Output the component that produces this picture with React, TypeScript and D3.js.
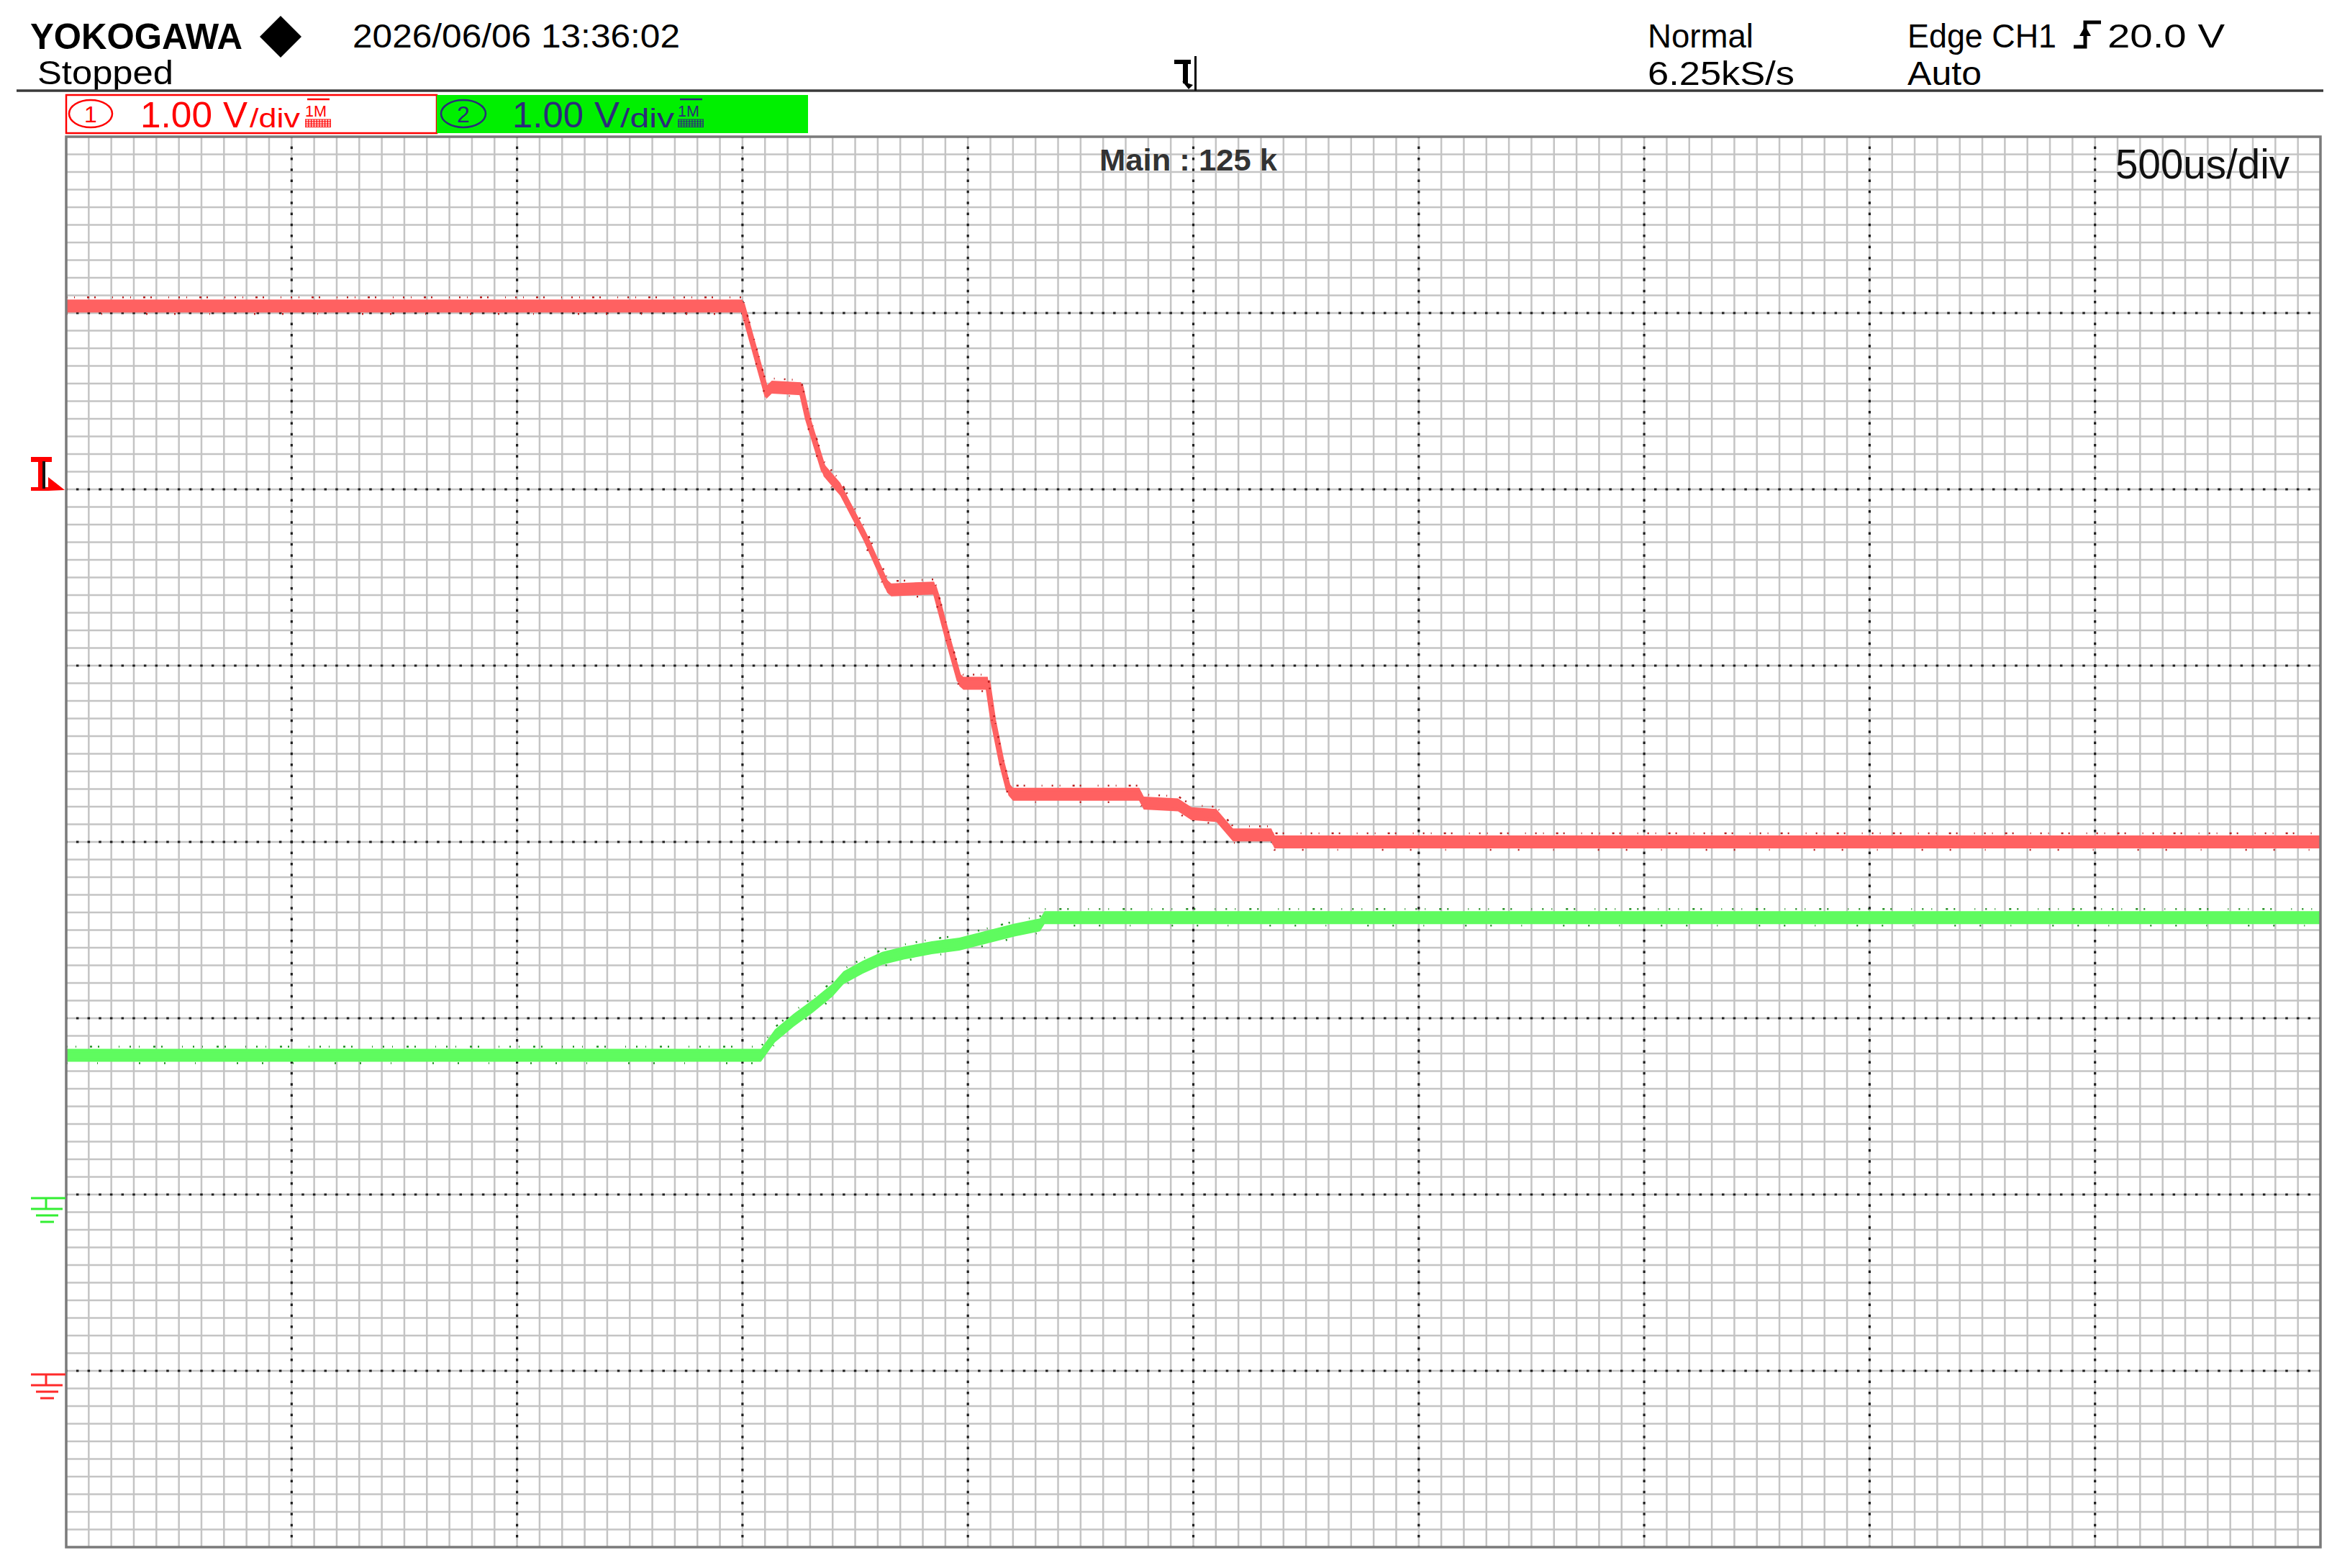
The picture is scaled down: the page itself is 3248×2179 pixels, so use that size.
import React from 'react';
import * as d3 from 'd3';

// ---------------- data ----------------
const timeDomainUs = [0, 5000]; // 10 div x 500 us
const ch1VoltRange = [-1, 7]; // 8 div x 1 V, CH1 ground one div above bottom
const ch2VoltRange = [-2, 6]; // CH2 ground two div above bottom
const horizDivs = 10;
const vertDivs = 8;
const minorPerDiv = 10;

const ch1TimesUs = [0, 1500, 1515, 1553, 1565, 1630, 1645, 1680, 1717, 1772, 1821, 1830, 1925, 1930, 1957, 1981, 1990, 2044, 2056, 2075, 2090, 2100, 2380, 2390, 2466, 2496, 2551, 2588, 2673, 2680, 5000];
const ch1Volts = [6.04, 6.04, 5.9, 5.55, 5.58, 5.57, 5.4, 5.11, 5.0, 4.73, 4.45, 4.43, 4.44, 4.4, 4.14, 3.92, 3.9, 3.9, 3.69, 3.45, 3.3, 3.27, 3.27, 3.22, 3.21, 3.16, 3.15, 3.04, 3.04, 3.0, 3.0];

const ch2TimesUs = [0, 1541, 1572, 1614, 1657, 1700, 1724, 1767, 1810, 1859, 1920, 1981, 2042, 2103, 2160, 2170, 5000];
const ch2Volts = [0.79, 0.79, 0.9, 0.99, 1.07, 1.16, 1.23, 1.29, 1.34, 1.37, 1.4, 1.42, 1.46, 1.5, 1.53, 1.57, 1.57];

const ch1TriggerLevelV = 5;

const headerBrand = 'YOKOGAWA';
const headerDate = '2026/06/06 13:36:02';
const headerState = 'Stopped';
const headerMode = 'Normal';
const headerRate = '6.25kS/s';
const headerTrigSrc = 'Edge CH1';
const headerTrigLvl = '20.0 V';
const headerTrigMode = 'Auto';
const ch1Scale = '1.00';
const ch2Scale = '1.00';
const mainLabel = 'Main : 125 k';
const timebaseLabel = '500us/div';

// ---------------- layout ----------------
const W = 3248;
const H = 2179;
const P = { left: 92, right: 3225, top: 190, bottom: 2150 };
const FONT = "'Liberation Sans Narrow', 'Liberation Sans', Arial, sans-serif";
const RED_TRACE = '#ff6161';
const GREEN_TRACE = '#5ffb5f';

type Pt = [number, number];

export default function App() {
  const x = d3.scaleLinear().domain(timeDomainUs).range([P.left, P.right]);
  const y1 = d3.scaleLinear().domain(ch1VoltRange).range([P.bottom, P.top]);
  const y2 = d3.scaleLinear().domain(ch2VoltRange).range([P.bottom, P.top]);

  const ch1: Pt[] = ch1TimesUs.map((t, i) => [t, ch1Volts[i]]);
  const ch2: Pt[] = ch2TimesUs.map((t, i) => [t, ch2Volts[i]]);

  const mkArea = (ys: d3.ScaleLinear<number, number>) =>
    d3.area<Pt>().x(d => x(d[0])).y0(d => ys(d[1]) + 9).y1(d => ys(d[1]) - 9);
  const mkLine = (ys: d3.ScaleLinear<number, number>) =>
    d3.line<Pt>().x(d => x(d[0])).y(d => ys(d[1]));

  const divW = (P.right - P.left) / horizDivs;
  const divH = (P.bottom - P.top) / vertDivs;
  const minorX = d3.range(1, horizDivs * minorPerDiv).map(i => P.left + (i * divW) / minorPerDiv);
  const minorY = d3.range(1, vertDivs * minorPerDiv).map(i => P.top + (i * divH) / minorPerDiv);
  const majorX = d3.range(1, horizDivs).map(i => P.left + i * divW);
  const majorY = d3.range(1, vertDivs).map(i => P.top + i * divH);
  const dotStepX = divW / 20;
  const dotStepY = divH / 16;

  const ch1Ground = y1(0);
  const ch2Ground = y2(0);
  const trigY = y1(ch1TriggerLevelV);

  const groundSymbol = (gy: number, color: string) => (
    <g stroke={color} strokeWidth={3} fill="none">
      <line x1={43} x2={91} y1={gy + 5} y2={gy + 5} />
      <line x1={64} x2={64} y1={gy + 5} y2={gy + 20} />
      <line x1={43} x2={87} y1={gy + 20} y2={gy + 20} />
      <line x1={50} x2={81} y1={gy + 29} y2={gy + 29} />
      <line x1={56} x2={75} y1={gy + 38} y2={gy + 38} />
    </g>
  );

  const termIcon = (x0: number, color: string) => (
    <g>
      <line x1={x0 + 3} x2={x0 + 34} y1={138} y2={138} stroke={color} strokeWidth={2.5} />
      <text x={x0} y={162} fontFamily={FONT} fontSize={22} fill={color} textLength={30} lengthAdjust="spacingAndGlyphs">1M</text>
      {d3.range(0, 5).map(i => (
        <line key={'h' + i} x1={x0} x2={x0 + 36} y1={166 + i * 2.6} y2={166 + i * 2.6} stroke={color} strokeWidth={1} />
      ))}
      {d3.range(0, 10).map(i => (
        <line key={'v' + i} x1={x0 + 1 + i * 3.8} x2={x0 + 1 + i * 3.8} y1={166} y2={177} stroke={color} strokeWidth={1.2} />
      ))}
    </g>
  );

  const hdr = { fontFamily: FONT, fontSize: 46, fill: '#000', lengthAdjust: 'spacingAndGlyphs' as const };

  return (
    <svg width={W} height={H} viewBox={`0 0 ${W} ${H}`} style={{ position: 'absolute', left: 0, top: 0, display: 'block', background: '#fff' }}>
      <rect x={0} y={0} width={W} height={H} fill="#fff" />

      {/* header */}
      <text x={42} y={68} {...hdr} fontWeight="bold" fontSize={50} textLength={295}>{headerBrand}</text>
      <path d="M390,22 L419,51 L390,80 L361,51 Z" fill="#000" />
      <text x={490} y={66} {...hdr} textLength={455}>{headerDate}</text>
      <text x={52} y={117} {...hdr} textLength={189}>{headerState}</text>
      <text x={2290} y={66} {...hdr} textLength={147}>{headerMode}</text>
      <text x={2290} y={118} {...hdr} textLength={204}>{headerRate}</text>
      <text x={2651} y={66} {...hdr} textLength={207}>{headerTrigSrc}</text>
      <g stroke="#000" strokeWidth={5} fill="none">
        <path d="M2882,65 L2898,65 L2898,31 L2920,31" />
      </g>
      <path d="M2898,36 L2890,50 L2906,50 Z" fill="#000" />
      <text x={2929} y={66} {...hdr} textLength={163}>{headerTrigLvl}</text>
      <text x={2651} y={118} {...hdr} textLength={103}>{headerTrigMode}</text>
      <line x1={23} x2={3229} y1={126} y2={126} stroke="#3a3a3a" strokeWidth={3.5} />

      {/* trigger position marker */}
      <g fill="#000">
        <rect x={1632} y={83} width={23} height={6} />
        <rect x={1644} y={88} width={7} height={28} />
        <path d="M1643,113 L1658,118 L1652,124 Z" />
      </g>
      <line x1={1661.5} x2={1661.5} y1={78} y2={126} stroke="#000" strokeWidth={3} />

      {/* channel legend boxes */}
      <rect x={92} y={132} width={515} height={53} fill="#fff" stroke="#ff0000" strokeWidth={2.5} />
      <ellipse cx={126} cy={158} rx={30} ry={19} fill="none" stroke="#ff0000" strokeWidth={2.5} />
      <text x={126} y={170} textAnchor="middle" fontFamily={FONT} fontSize={32} fill="#ff0000">1</text>
      <text x={195} y={177} fontFamily={FONT} fontSize={50} textLength={100} lengthAdjust="spacingAndGlyphs" fill="#ff0000">{ch1Scale}</text>
      <text x={310} y={177} fontFamily={FONT} fontSize={50} textLength={34} lengthAdjust="spacingAndGlyphs" fill="#ff0000">V</text>
      <text x={347} y={177} fontFamily={FONT} fontSize={36} textLength={70} lengthAdjust="spacingAndGlyphs" fill="#ff0000">/div</text>
      {termIcon(424, '#ff0000')}

      <rect x={607} y={132} width={516} height={53} fill="#00f000" />
      <ellipse cx={644} cy={158} rx={31} ry={19} fill="none" stroke="#2b2b7a" strokeWidth={2.5} />
      <text x={644} y={170} textAnchor="middle" fontFamily={FONT} fontSize={32} fill="#2b2b7a">2</text>
      <text x={712} y={177} fontFamily={FONT} fontSize={50} textLength={99} lengthAdjust="spacingAndGlyphs" fill="#2b2b7a">{ch2Scale}</text>
      <text x={826} y={177} fontFamily={FONT} fontSize={50} textLength={35} lengthAdjust="spacingAndGlyphs" fill="#2b2b7a">V</text>
      <text x={862} y={177} fontFamily={FONT} fontSize={36} textLength={75} lengthAdjust="spacingAndGlyphs" fill="#2b2b7a">/div</text>
      {termIcon(942, '#2b2b7a')}

      {/* grid */}
      <g stroke="#c4c4c4" strokeWidth={2.5}>
        {minorX.map((gx, i) => (
          <line key={'mx' + i} x1={gx} x2={gx} y1={P.top} y2={P.bottom} />
        ))}
        {minorY.map((gy, i) => (
          <line key={'my' + i} x1={P.left} x2={P.right} y1={gy} y2={gy} />
        ))}
      </g>
      <g stroke="#1e1e1e" strokeWidth={3.2}>
        {majorX.map((gx, i) => (
          <line key={'Mx' + i} x1={gx} x2={gx} y1={P.top} y2={P.bottom} strokeDasharray={`3.5 ${dotStepY - 3.5}`} strokeDashoffset={1.75} />
        ))}
        {majorY.map((gy, i) => (
          <line key={'My' + i} x1={P.left} x2={P.right} y1={gy} y2={gy} strokeDasharray={`3.5 ${dotStepX - 3.5}`} strokeDashoffset={1.75} />
        ))}
      </g>

      <text x={1528} y={237} fontFamily={FONT} fontWeight="bold" fontSize={42} textLength={247} lengthAdjust="spacingAndGlyphs" fill="#333">{mainLabel}</text>
      <text x={2940} y={248} fontFamily={FONT} fontSize={57} textLength={242} lengthAdjust="spacingAndGlyphs" fill="#111">{timebaseLabel}</text>

      {/* traces */}
      <g>
        <path d={mkArea(y2)(ch2) || ''} fill={GREEN_TRACE} />
        <path d={mkLine(y2)(ch2) || ''} fill="none" stroke={GREEN_TRACE} strokeWidth={8} />
        <path d={mkLine(y2)(ch2) || ''} transform="translate(0,-12)" fill="none" stroke="#1f8f1f" strokeWidth={2.5} strokeDasharray="2 11 1 19 3 8 2 27 1 14" />
        <path d={mkLine(y2)(ch2) || ''} transform="translate(0,11)" fill="none" stroke="#1f8f1f" strokeWidth={2.5} strokeDasharray="2 41 1 57 2 33" />
      </g>
      <g>
        <path d={mkArea(y1)(ch1) || ''} fill={RED_TRACE} />
        <path d={mkLine(y1)(ch1) || ''} fill="none" stroke={RED_TRACE} strokeWidth={8} />
        <path d={mkLine(y1)(ch1) || ''} transform="translate(0,-12)" fill="none" stroke="#b81c1c" strokeWidth={2.5} strokeDasharray="2 9 1 17 3 7 2 23 1 13" />
        <path d={mkLine(y1)(ch1) || ''} transform="translate(0,11)" fill="none" stroke="#b81c1c" strokeWidth={2.5} strokeDasharray="2 47 1 61 2 37" />
      </g>

      {/* frame */}
      <rect x={P.left} y={P.top} width={P.right - P.left} height={P.bottom - P.top} fill="none" stroke="#7a7a7a" strokeWidth={3.5} />

      {/* left markers */}
      <g fill="#ff0000">
        <rect x={43} y={trigY - 45} width={29} height={7} />
        <rect x={53} y={trigY - 40} width={8} height={38} />
        <rect x={43} y={trigY - 3} width={24} height={5} />
        <path d={`M67,${trigY - 17} L90,${trigY + 1} L67,${trigY + 2} Z`} />
      </g>
      <rect x={59} y={trigY - 39} width={4} height={38} fill="#111" />
      {groundSymbol(ch2Ground, '#33ee33')}
      {groundSymbol(ch1Ground, '#ff2a2a')}
    </svg>
  );
}
